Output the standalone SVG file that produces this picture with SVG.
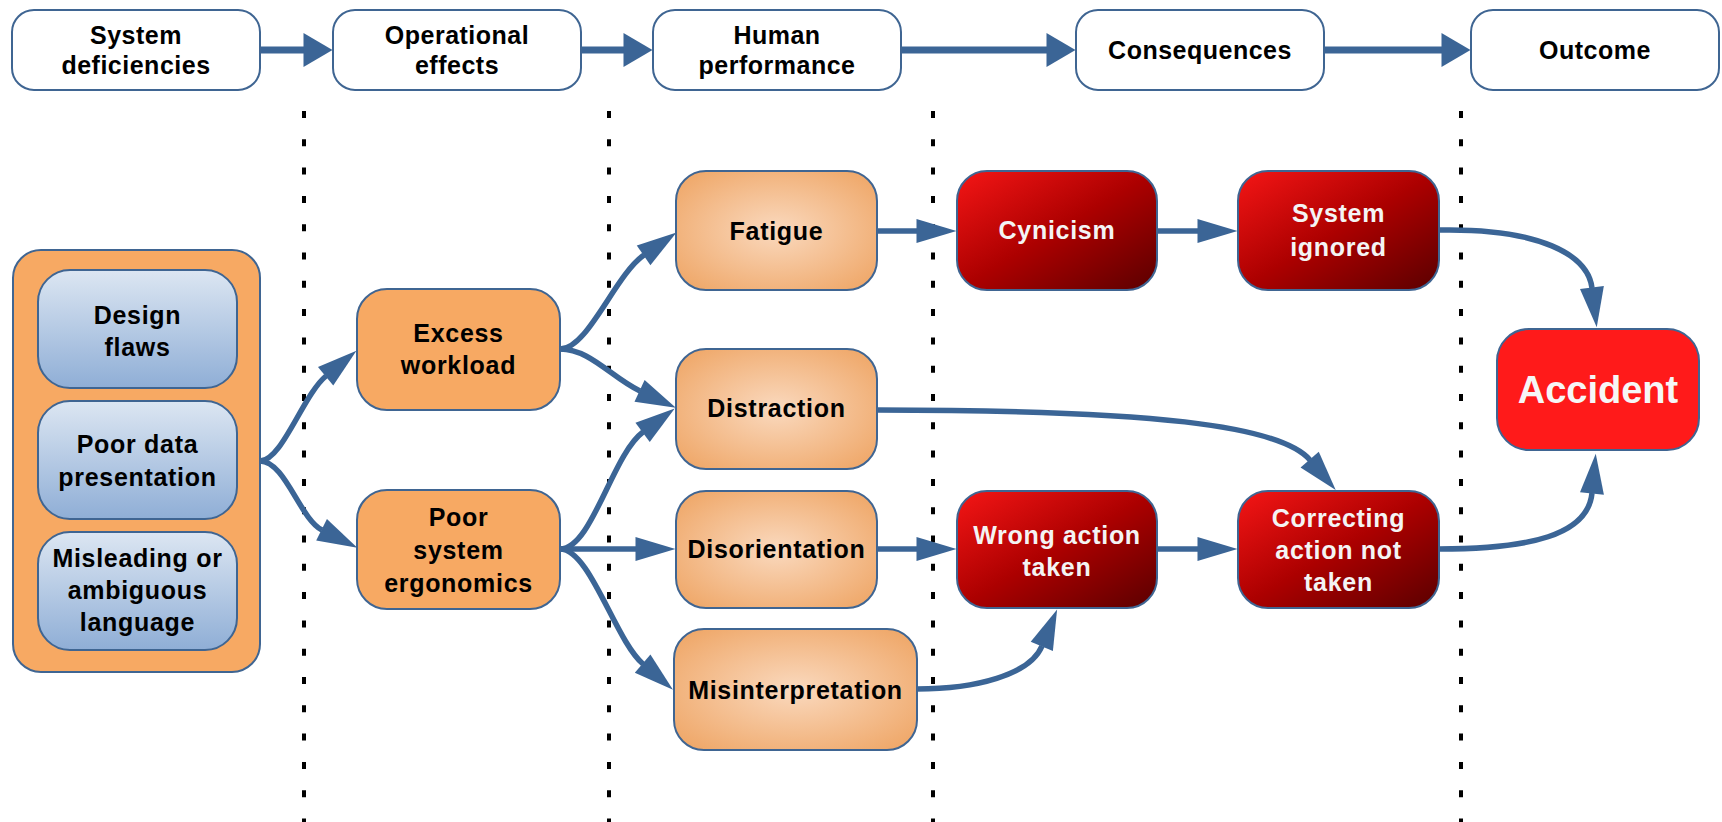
<svg xmlns="http://www.w3.org/2000/svg" width="1722" height="822" viewBox="0 0 1722 822">
<defs>
<style>
.hdr{fill:#fff;stroke:#3F6592;stroke-width:2}
.ht{font-family:"Liberation Sans",Arial,sans-serif;font-weight:bold;font-size:25px;letter-spacing:0.5px;fill:#000;text-anchor:middle}
.nt{font-family:"Liberation Sans",Arial,sans-serif;font-weight:bold;font-size:25px;letter-spacing:0.7px;fill:#000;text-anchor:middle}
.wt{font-family:"Liberation Sans",Arial,sans-serif;font-weight:bold;font-size:25px;letter-spacing:0.7px;fill:#F4F4F4;text-anchor:middle}
.orange{fill:#F7A963;stroke:#3F6592;stroke-width:2}
.human{fill:url(#humanGrad);stroke:#3F6592;stroke-width:2}
.blue{fill:url(#blueGrad);stroke:#3F6592;stroke-width:2}
.red{fill:url(#redGrad);stroke:#3F6592;stroke-width:2}
.dot{stroke:#000;stroke-width:4;stroke-dasharray:7 21.3;fill:none}
.hc{stroke:#3B6596;stroke-width:7;fill:none;marker-end:url(#hh)}
.c{stroke:#3B6596;stroke-width:5.5;fill:none;marker-end:url(#ah)}
</style>
<linearGradient id="blueGrad" x1="0" y1="0" x2="0" y2="1">
<stop offset="0" stop-color="#DCE6F2"/>
<stop offset="1" stop-color="#8FAED6"/>
</linearGradient>
<radialGradient id="humanGrad" cx="0.5" cy="0.5" r="0.65">
<stop offset="0" stop-color="#FAD9BE"/>
<stop offset="1" stop-color="#EFA768"/>
</radialGradient>
<linearGradient id="redGrad" x1="0" y1="0" x2="1" y2="1">
<stop offset="0" stop-color="#F51616"/>
<stop offset="0.5" stop-color="#AC0000"/>
<stop offset="1" stop-color="#5A0000"/>
</linearGradient>
<marker id="hh" markerUnits="userSpaceOnUse" markerWidth="30" markerHeight="34" refX="0.5" refY="17" orient="auto" overflow="visible">
<path d="M0,0 L29,17 L0,34 z" fill="#3B6596"/>
</marker>
<marker id="ah" markerUnits="userSpaceOnUse" markerWidth="41" markerHeight="24" refX="0.5" refY="12" orient="auto" overflow="visible">
<path d="M0,0 L40,12 L0,24 z" fill="#3B6596"/>
</marker>
</defs>

<g id="dividers">
<line class="dot" x1="304" y1="111" x2="304" y2="822"/>
<line class="dot" x1="609" y1="111" x2="609" y2="822"/>
<line class="dot" x1="933" y1="111" x2="933" y2="822"/>
<line class="dot" x1="1461" y1="111" x2="1461" y2="822"/>
</g>

<g id="connectors">
<path class="hc" d="M261,50 H304"/>
<path class="hc" d="M582,50 H624"/>
<path class="hc" d="M902,50 H1047"/>
<path class="hc" d="M1325,50 H1442"/>

<path class="c" d="M260,461 C282,461 303,395 326,376"/>
<path class="c" d="M260,461 C285,461 300,519 322,530"/>
<path class="c" d="M560,349 C588,349 615,275 644,255"/>
<path class="c" d="M560,349 C590,349 612,378 640,391"/>
<path class="c" d="M560,549 C592,549 612,455 643,432"/>
<path class="c" d="M560,549 H636"/>
<path class="c" d="M560,549 C590,549 615,640 643,664"/>
<path class="c" d="M877,231 H917"/>
<path class="c" d="M1157,231 H1198"/>
<path class="c" d="M1439,230 C1540,228 1588,255 1592,288"/>
<path class="c" d="M878,410 C1150,410 1280,425 1310,460"/>
<path class="c" d="M877,549 H917"/>
<path class="c" d="M1157,549 H1198"/>
<path class="c" d="M917,689 C975,689 1030,675 1042,646"/>
<path class="c" d="M1439,549 C1530,549 1588,535 1592,493"/>
</g>

<g id="h-system">
<rect class="hdr" x="12" y="10" width="248" height="80" rx="22"/>
<text class="ht" x="136" y="44">System</text>
<text class="ht" x="136" y="74">deficiencies</text>
</g>
<g id="h-operational">
<rect class="hdr" x="333" y="10" width="248" height="80" rx="22"/>
<text class="ht" x="457" y="44">Operational</text>
<text class="ht" x="457" y="74">effects</text>
</g>
<g id="h-human">
<rect class="hdr" x="653" y="10" width="248" height="80" rx="22"/>
<text class="ht" x="777" y="44">Human</text>
<text class="ht" x="777" y="74">performance</text>
</g>
<g id="h-consequences">
<rect class="hdr" x="1076" y="10" width="248" height="80" rx="22"/>
<text class="ht" x="1200" y="59">Consequences</text>
</g>
<g id="h-outcome">
<rect class="hdr" x="1471" y="10" width="248" height="80" rx="22"/>
<text class="ht" x="1595" y="59">Outcome</text>
</g>

<g id="n-deficiencies">
<rect class="orange" x="13" y="250" width="247" height="422" rx="28"/>
</g>
<g id="n-design">
<rect class="blue" x="38" y="270" width="199" height="118" rx="32"/>
<text class="nt" x="137.5" y="324">Design</text>
<text class="nt" x="137.5" y="356">flaws</text>
</g>
<g id="n-poordata">
<rect class="blue" x="38" y="401" width="199" height="118" rx="32"/>
<text class="nt" x="137.5" y="453">Poor data</text>
<text class="nt" x="137.5" y="486">presentation</text>
</g>
<g id="n-misleading">
<rect class="blue" x="38" y="532" width="199" height="118" rx="32"/>
<text class="nt" x="137.5" y="567">Misleading or</text>
<text class="nt" x="137.5" y="599">ambiguous</text>
<text class="nt" x="137.5" y="631">language</text>
</g>

<g id="n-excess">
<rect class="orange" x="357" y="289" width="203" height="121" rx="30"/>
<text class="nt" x="458.5" y="342">Excess</text>
<text class="nt" x="458.5" y="374">workload</text>
</g>
<g id="n-ergonomics">
<rect class="orange" x="357" y="490" width="203" height="119" rx="30"/>
<text class="nt" x="458.5" y="526">Poor</text>
<text class="nt" x="458.5" y="559">system</text>
<text class="nt" x="458.5" y="592">ergonomics</text>
</g>

<g id="n-fatigue">
<rect class="human" x="676" y="171" width="201" height="119" rx="30"/>
<text class="nt" x="776.5" y="240">Fatigue</text>
</g>
<g id="n-distraction">
<rect class="human" x="676" y="349" width="201" height="120" rx="30"/>
<text class="nt" x="776.5" y="417">Distraction</text>
</g>
<g id="n-disorientation">
<rect class="human" x="676" y="491" width="201" height="117" rx="30"/>
<text class="nt" x="776.5" y="558">Disorientation</text>
</g>
<g id="n-misinterpretation">
<rect class="human" x="674" y="629" width="243" height="121" rx="30"/>
<text class="nt" x="795.5" y="699">Misinterpretation</text>
</g>

<g id="n-cynicism">
<rect class="red" x="957" y="171" width="200" height="119" rx="30"/>
<text class="wt" x="1057" y="239">Cynicism</text>
</g>
<g id="n-ignored">
<rect class="red" x="1238" y="171" width="201" height="119" rx="30"/>
<text class="wt" x="1338.5" y="222">System</text>
<text class="wt" x="1338.5" y="256">ignored</text>
</g>
<g id="n-wrong">
<rect class="red" x="957" y="491" width="200" height="117" rx="30"/>
<text class="wt" x="1057" y="544">Wrong action</text>
<text class="wt" x="1057" y="576">taken</text>
</g>
<g id="n-correcting">
<rect class="red" x="1238" y="491" width="201" height="117" rx="30"/>
<text class="wt" x="1338.5" y="527">Correcting</text>
<text class="wt" x="1338.5" y="559">action not</text>
<text class="wt" x="1338.5" y="591">taken</text>
</g>

<g id="n-accident">
<rect x="1497" y="329" width="202" height="121" rx="32" fill="#FF1A1A" stroke="#3F6592" stroke-width="2"/>
<text x="1598" y="403" text-anchor="middle" font-family="Liberation Sans, Arial, sans-serif" font-weight="bold" font-size="38" fill="#F6F6F6">Accident</text>
</g>
</svg>
